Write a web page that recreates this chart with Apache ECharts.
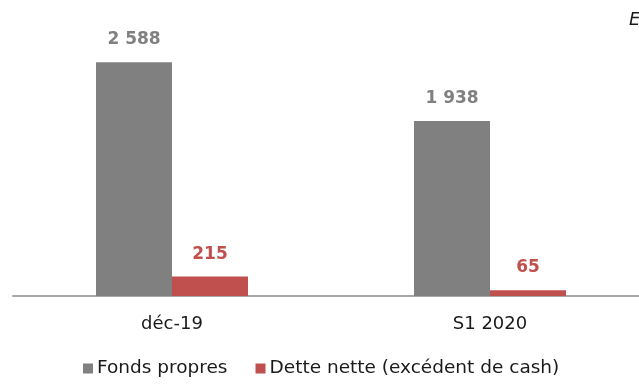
<!DOCTYPE html>
<html>
<head>
<meta charset="utf-8">
<script src="https://cdn.jsdelivr.net/npm/echarts@6/dist/echarts.min.js"></script>
<style>
  html, body { margin: 0; padding: 0; background: #fff; overflow: hidden; width: 639px; height: 384px; }
  /* the plot runs slightly past the right edge of the page */
  #chart { width: 650px; height: 384px; }
</style>
</head>
<body>
<div id="chart"></div>
<script>
// Periods and amounts (M€)
const categories = ['déc-19', 'S1 2020'];
const fondsPropres = [2588, 1938];
const detteNette = [215, 65];
const seriesNames = ['Fonds propres', 'Dette nette (excédent de cash)'];

const FONT = 'DejaVu Sans';
const fmt = v => String(v).replace(/\B(?=(\d{3})+(?!\d))/g, ' ');

const chart = echarts.init(document.getElementById('chart'), null, { renderer: 'canvas' });
chart.setOption({
  animation: false,
  backgroundColor: '#ffffff',
  grid: { left: 13, top: 25, right: 1, bottom: 88, containLabel: false },
  xAxis: {
    type: 'category',
    data: categories,
    axisLine: { lineStyle: { color: '#a6a6a6', width: 2 } },
    axisTick: { show: false },
    axisLabel: { color: '#1a1a1a', fontFamily: FONT, fontSize: 18, margin: 19 }
  },
  yAxis: {
    type: 'value', min: 0, max: 3000,
    show: false,
    splitLine: { show: false }
  },
  legend: {
    bottom: 6,
    left: 83,
    padding: 0,
    itemWidth: 10, itemHeight: 10, itemGap: 28,
    icon: 'rect',
    textStyle: { fontFamily: FONT, fontSize: 18.5, color: '#1a1a1a', padding: [0, 0, 0, -1] },
    data: seriesNames
  },
  graphic: [{
    type: 'text', left: 629, top: 11,
    style: { text: 'En M€', font: 'italic 18px "DejaVu Sans"', fill: '#1a1a1a' }
  }],
  series: [
    {
      name: seriesNames[0], type: 'bar', data: fondsPropres,
      barWidth: 76, barGap: '0%',
      itemStyle: { color: '#808080' },
      label: { show: true, position: 'top', distance: 14, formatter: p => fmt(p.value),
        color: '#808080', fontFamily: FONT, fontWeight: 'bold', fontSize: 17 }
    },
    {
      name: seriesNames[1], type: 'bar', data: detteNette,
      barWidth: 76,
      itemStyle: { color: '#c0504d' },
      label: { show: true, position: 'top', distance: 14, formatter: p => fmt(p.value),
        color: '#c0504d', fontFamily: FONT, fontWeight: 'bold', fontSize: 17 }
    }
  ]
});
</script>
</body>
</html>
